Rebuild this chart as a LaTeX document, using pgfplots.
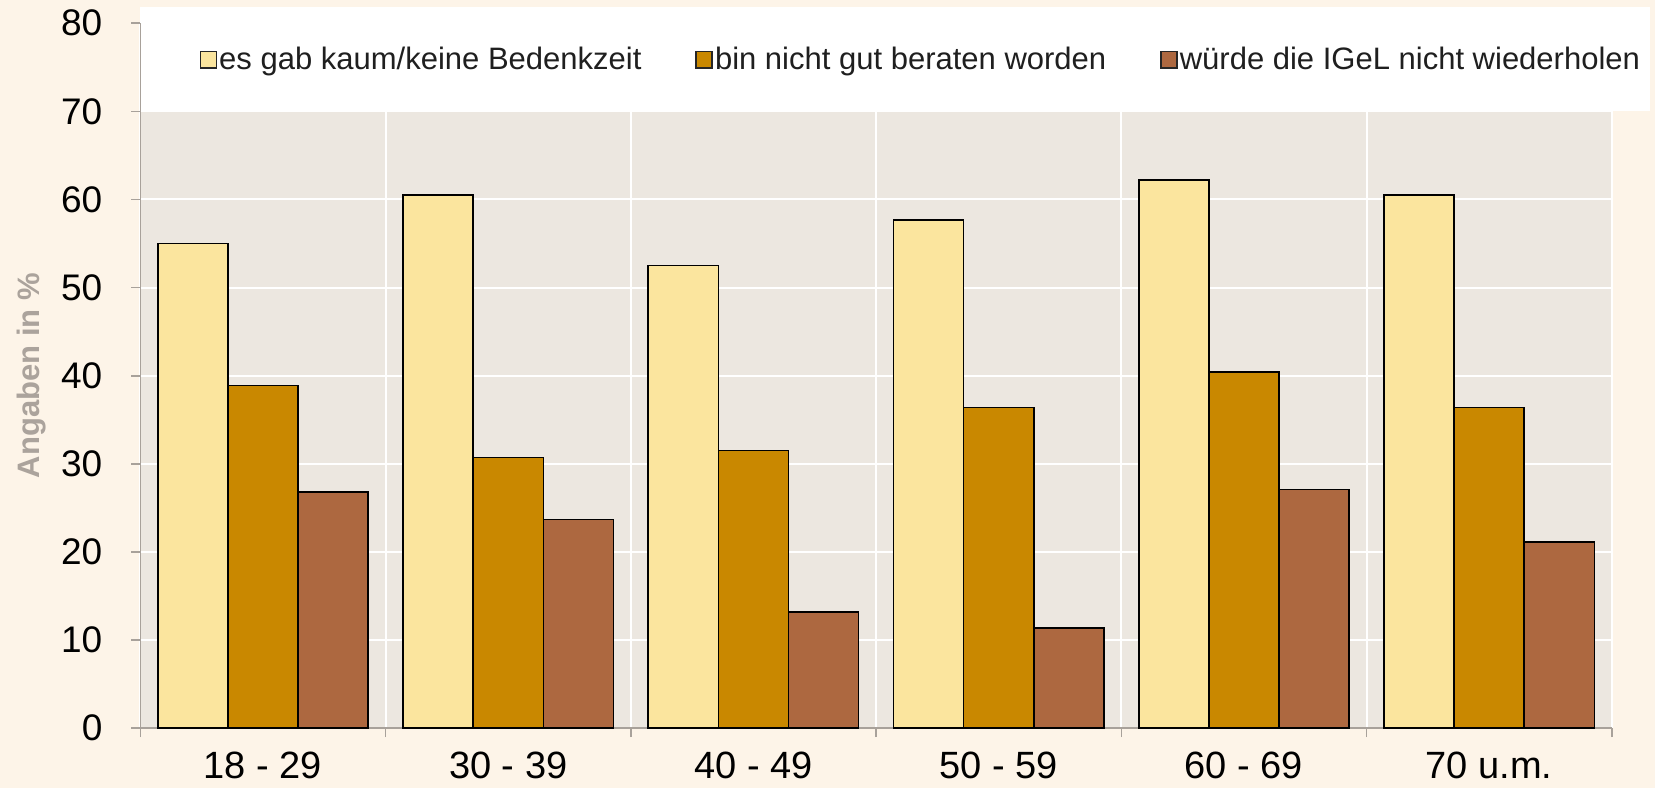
\documentclass[border=0pt]{standalone}
\usepackage{fontspec}
\setmainfont{Liberation Sans}
\usepackage{pgfplots}
\pgfplotsset{compat=1.18}
\definecolor{cYel}{HTML}{FBE59E}
\definecolor{cOra}{HTML}{C98800}
\definecolor{cBro}{HTML}{AD6840}
\definecolor{plotbg}{HTML}{ECE7E0}
\definecolor{pagebg}{HTML}{FDF4E8}
\definecolor{axgray}{HTML}{A8A19A}
\definecolor{labgray}{HTML}{ABA39C}
\pgfplotsset{
  sqlegend/.style={legend image code/.code={\draw[draw=black!85, fill=#1, line width=0.8pt] (0pt,-4.2pt) rectangle (8pt,4.2pt);}},
}
\begin{document}
\begin{tikzpicture}
\path[use as bounding box] (0,0) rectangle (827.5pt,394pt);
\fill[pagebg] (0,0) rectangle (827.5pt,394pt);
\fill[plotbg] (70.2pt,29.9pt) rectangle (805.9pt,338.3pt);
\fill[white] (70.2pt,338.3pt) rectangle (825pt,390.5pt);
\begin{axis}[
  at={(70.2pt,29.9pt)}, anchor=south west,
  scale only axis, width=735.7pt, height=352.5pt,
  xmin=-0.5, xmax=5.5, ymin=0, ymax=80,
  axis lines*=left,
  axis line style={axgray, line width=0.8pt},
  tick align=outside,
  ytick={0,10,...,80},
  major tick length=4.5pt,
  tick style={axgray, line width=0.8pt},
  xtick={-0.5,0.5,1.5,2.5,3.5,4.5,5.5},
  xticklabels={},
  extra x ticks={0,1,2,3,4,5},
  extra x tick labels={18 - 29,30 - 39,40 - 49,50 - 59,60 - 69,70 u.m.},
  extra x tick style={major tick length=0pt, grid=none},
  grid=major,
  grid style={white, line width=1pt},
  /pgf/number format/assume math mode=true,
  tick label style={font=\fontsize{18.5}{20}\selectfont, text=black},
  xticklabel style={font=\fontsize{19}{21}\selectfont, yshift=-8.5pt},
  yticklabel style={xshift=-11pt},
  every axis y label/.style={at={(axis description cs:-0.074,0.5)}, rotate=90, anchor=center},
  ylabel={\fontsize{15.5}{17}\selectfont\bfseries Angaben in \%},
  ylabel style={text=labgray},
  legend columns=3,
  legend style={at={(axis description cs:0.040,0.948)}, anchor=west,
    draw=none, fill=none, inner sep=0pt, font=\fontsize{15.5}{17}\selectfont, text=black!88,
    nodes={inner sep=1pt},
    /tikz/every even column/.append style={column sep=26pt},
    /tikz/column 2/.append style={column sep=23pt}},
  legend cell align=left,
  ybar, bar width=0.286,
  every axis plot/.append style={draw=black, line width=0.8pt},
]
\addplot[fill=cYel, bar shift=-0.286, sqlegend=cYel] coordinates {(0,55.0) (1,60.5) (2,52.5) (3,57.7) (4,62.2) (5,60.5)};
\addplot[fill=cOra, bar shift=0, sqlegend=cOra] coordinates {(0,38.9) (1,30.7) (2,31.5) (3,36.4) (4,40.4) (5,36.4)};
\addplot[fill=cBro, bar shift=0.286, sqlegend=cBro] coordinates {(0,26.8) (1,23.7) (2,13.2) (3,11.4) (4,27.1) (5,21.1)};
\legend{es gab kaum/keine Bedenkzeit, bin nicht gut beraten worden, würde die IGeL nicht wiederholen}
\end{axis}
\end{tikzpicture}
\end{document}
